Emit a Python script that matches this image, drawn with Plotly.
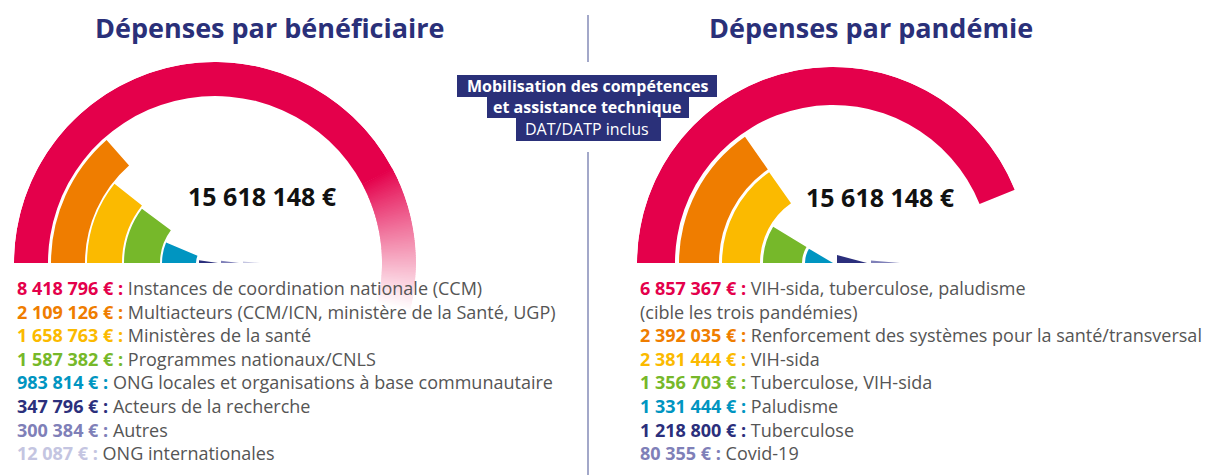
import numpy as np
import plotly.graph_objects as go

W, H = 1217, 475

# ---------------- data ----------------
total_amount = 15618148
titles = ["Dépenses par bénéficiaire", "Dépenses par pandémie"]

benef_labels = [
    "Instances de coordination nationale (CCM)",
    "Multiacteurs (CCM/ICN, ministère de la Santé, UGP)",
    "Ministères de la santé",
    "Programmes nationaux/CNLS",
    "ONG locales et organisations à base communautaire",
    "Acteurs de la recherche",
    "Autres",
    "ONG internationales",
]
benef_values = [8418796, 2109126, 1658763, 1587382, 983814, 347796, 300384, 12087]

pand_labels = [
    "VIH-sida, tuberculose, paludisme",
    "Renforcement des systèmes pour la santé/transversal",
    "VIH-sida",
    "Tuberculose, VIH-sida",
    "Paludisme",
    "Tuberculose",
    "Covid-19",
]
pand_values = [6857367, 2392035, 2381444, 1356703, 1331444, 1218800, 80355]
pand_note = "(cible les trois pandémies)"

box_lines = ["Mobilisation des compétences", "et assistance technique", "DAT/DATP inclus"]

# ---------------- style ----------------
palette = ["#E4004B", "#EF7D00", "#FBBA00", "#76B82A", "#0095C1", "#2B2F7C", "#7F80B8", "#C4C5E1"]
NAVY = "#2A3079"
GREY = "#555555"
FONT = "Open Sans"

charts = [
    dict(values=benef_values, labels=benef_labels, notes={}, cx=215, cy=263, R=201,
         rings=[(167, 201), (130, 164), (93, 128), (55, 91), (19, 53)],
         slivers=[(-16, 3), (6, 24), (28, 45)], sector_min=-14, fade=True,
         subplot="polar", title_x=270, total_x=262, total_y=196, legend_x=15),
    dict(values=pand_values, labels=pand_labels, notes={0: pand_note}, cx=833, cy=263, R=196,
         rings=[(158, 196), (114, 154), (73, 111), (31, 70), (0, 28)],
         slivers=[(4, 34), (38, 67)], sector_min=0, fade=False,
         subplot="polar2", title_x=871, total_x=880, total_y=197, legend_x=638),
]


def fmt(v):
    return f"{v:,}".replace(",", " ")


def hex2rgb(h):
    h = h.lstrip("#")
    return np.array([int(h[i:i + 2], 16) for i in (0, 2, 4)], dtype=float)


fig = go.Figure()
annotations = []
shapes = []
layout_polars = {}

for ci, ch in enumerate(charts):
    cx, cy, R = ch["cx"], ch["cy"], ch["R"]
    vals = ch["values"]
    angles = [v / total_amount * 360.0 for v in vals]
    nr = len(ch["rings"])

    # concentric arcs
    th, wd, base, rr, cols = [], [], [], [], []
    for k in range(nr):
        inner, outer = ch["rings"][k]
        a = angles[k]
        if ch["fade"] and k == 0:
            fade_start = 152.0
            th.append(fade_start / 2); wd.append(fade_start)
            base.append(inner); rr.append(outer - inner); cols.append(palette[k])
            edges = np.linspace(fade_start, a, int(np.ceil(a - fade_start)) * 2 + 1)
            c0, c1 = hex2rgb(palette[0]), np.array([255.0, 255.0, 255.0])
            for e0, e1 in zip(edges[:-1], edges[1:]):
                t = ((e0 + e1) / 2 - fade_start) / (a - fade_start)
                c = c0 + (c1 - c0) * min(1.0, t ** 0.9)
                th.append((e0 + e1) / 2); wd.append(e1 - e0 + 0.35)
                base.append(inner); rr.append(outer - inner)
                cols.append("rgb(%d,%d,%d)" % tuple(c.round()))
        else:
            th.append(a / 2); wd.append(a)
            base.append(inner); rr.append(outer - inner); cols.append(palette[k])
    fig.add_trace(go.Barpolar(theta=th, width=wd, base=base, r=rr,
                              marker=dict(color=cols, line=dict(width=0)),
                              subplot=ch["subplot"], hoverinfo="skip"))

    # small slivers along the baseline
    for j, (s0, s1) in enumerate(ch["slivers"]):
        k = nr + j
        a = min(max(angles[k], 5.0), 15.0)
        x0, x1 = cx + s0, cx + s1
        h = (x1 - x0) * np.tan(np.radians(a))
        fig.add_trace(go.Scatter(x=[x0, x0, x1, x0], y=[cy, cy - h, cy, cy], fill="toself",
                                 mode="lines", line=dict(width=0), fillcolor=palette[k],
                                 hoverinfo="skip", xaxis="x", yaxis="y"))

    # polar placement
    smin = ch["sector_min"]
    ybot = cy + R * np.sin(np.radians(-smin)) if smin < 0 else cy
    layout_polars[ch["subplot"]] = dict(
        domain=dict(x=[(cx - R) / W, (cx + R) / W], y=[(H - ybot) / H, (H - (cy - R)) / H]),
        sector=[smin, 180], hole=0, bgcolor="rgba(0,0,0,0)",
        radialaxis=dict(range=[0, R], visible=False),
        angularaxis=dict(rotation=180, direction="clockwise", visible=False),
    )

    # title + total
    annotations.append(dict(x=ch["title_x"], y=27, text="<b>%s</b>" % titles[ci], showarrow=False,
                            font=dict(family=FONT, size=27, color=NAVY), xanchor="center", yanchor="middle"))
    annotations.append(dict(x=ch["total_x"], y=ch["total_y"], text="<b>%s €</b>" % fmt(total_amount),
                            showarrow=False, font=dict(family=FONT, size=25, color="#111111"),
                            xanchor="center", yanchor="middle"))

    # legend lines
    line = 0
    for k, (v, lab) in enumerate(zip(vals, ch["labels"])):
        y = 288 + 23.6 * line
        txt = '<b><span style="color:%s">%s € :</span></b> %s' % (palette[k], fmt(v), lab)
        annotations.append(dict(x=ch["legend_x"], y=y, text=txt, showarrow=False,
                                font=dict(family=FONT, size=18, color=GREY),
                                xanchor="left", yanchor="middle"))
        line += 1
        if k in ch["notes"]:
            annotations.append(dict(x=ch["legend_x"], y=288 + 23.6 * line, text=ch["notes"][k],
                                    showarrow=False, font=dict(family=FONT, size=18, color=GREY),
                                    xanchor="left", yanchor="middle"))
            line += 1

# divider
shapes.append(dict(type="line", x0=588, x1=588, y0=15, y1=62, xref="x", yref="y",
                   line=dict(color="#A3A8C9", width=2)))
shapes.append(dict(type="line", x0=588, x1=588, y0=152, y1=475, xref="x", yref="y",
                   line=dict(color="#A3A8C9", width=2)))

# label box
box_rects = [(457, 75, 717, 97), (487, 97, 689, 118), (516, 118, 661, 141)]
box_y = [86, 107, 129]
for i, (bx0, by0, bx1, by1) in enumerate(box_rects):
    shapes.append(dict(type="rect", x0=bx0, x1=bx1, y0=by0, y1=by1, xref="x", yref="y",
                       fillcolor=NAVY, line=dict(width=0), layer="below"))
    t = box_lines[i] if i == 2 else "<b>%s</b>" % box_lines[i]
    annotations.append(dict(x=587, y=box_y[i], text=t, showarrow=False,
                            font=dict(family=FONT, size=16, color="white"),
                            xanchor="center", yanchor="middle"))

fig.update_layout(
    width=W, height=H, margin=dict(l=0, r=0, t=0, b=0),
    paper_bgcolor="white", plot_bgcolor="rgba(0,0,0,0)", showlegend=False,
    xaxis=dict(range=[0, W], visible=False, domain=[0, 1], fixedrange=True),
    yaxis=dict(range=[H, 0], visible=False, domain=[0, 1], fixedrange=True),
    annotations=annotations, shapes=shapes,
    **layout_polars,
)

fig.write_html("out.html", config={"displayModeBar": False},
               post_script="document.body.style.margin='0';document.body.style.padding='0';")
